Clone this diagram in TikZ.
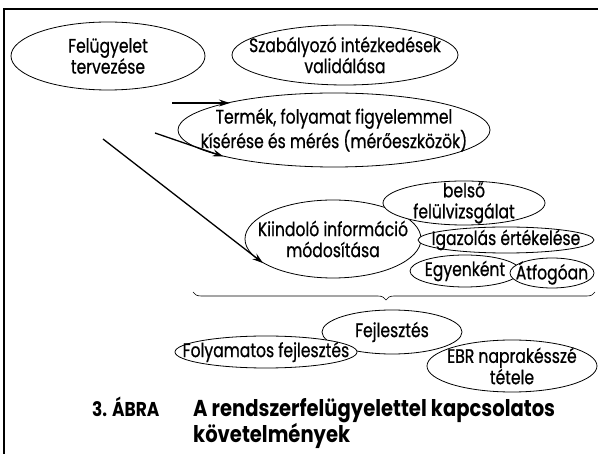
\documentclass[tikz,border=0pt]{standalone}
\usepackage{fontspec}
\setmainfont[FakeStretch=0.8,FakeBold=0.7]{Poppins}
\newfontfamily\capfont[FakeStretch=0.85]{Poppins}
\usetikzlibrary{shapes.geometric,decorations.pathreplacing,arrows.meta}

\tikzset{
  bubble/.style={draw,line width=0.8pt,ellipse,fill=white,inner xsep=-80pt,inner ysep=-40pt,
    align=center,font=\fontsize{19.5}{21}\selectfont},
  caption/.style={font=\capfont\bfseries\fontsize{23}{26}\selectfont,inner sep=0pt},
}

\begin{document}
\begin{tikzpicture}[x=1pt,y=-1pt,>={Stealth[length=11pt,width=7pt,inset=4pt]}]
\useasboundingbox (0,0) rectangle (598,454);

% frame
\draw[line width=1.2pt] (4,454) -- (4,9) -- (598,9);

% top row
\node[bubble,minimum width=194pt,minimum height=68pt] (planning) at (108,56) {Felügyelet\\tervezése};
\node[bubble,minimum width=226pt,minimum height=60pt] (validation) at (345,55) {Szabályozó intézkedések\\validálása};
\node[bubble,minimum width=312pt,minimum height=74pt] (monitoring) at (334,130) {Termék, folyamat figyelemmel\\kísérése és mérés (mérőeszközök)};

% middle cluster
\node[bubble,minimum width=176pt,minimum height=78pt] (source) at (333,239) {Kiindoló információ\\módosítása};
\node[bubble,minimum width=162pt,minimum height=44pt] (review) at (464,203) {belső\\felülvizsgálat};
\node[bubble,minimum width=176pt,minimum height=26pt] (verify) at (506,240) {Igazolás értékelése};
\node[bubble,minimum width=110pt,minimum height=32pt] (single) at (465,271) {Egyenként};
\node[bubble,minimum width=84pt,minimum height=30pt] (overall) at (552,273) {Átfogóan};

% arrows
\coordinate (s1) at (172,103);
\coordinate (s2) at (155,133);
\coordinate (s3) at (103,139);
\draw[->,line width=1.3pt] (s1) -- (s1 -| monitoring.165);
\draw[->,line width=1.3pt] (s2) -- (monitoring.south west);
\draw[->,line width=1.3pt] (s3) -- (source.199);

% brace
\coordinate (bl) at (193,292);
\coordinate (br) at (595,292);
\draw[semithick,decorate,decoration={brace,mirror,amplitude=8pt,aspect=0.48}] (bl) -- (br);

% bottom row
\node[bubble,minimum width=140pt,minimum height=44pt] (develop) at (392,332) {Fejlesztés};
\node[bubble,minimum width=182pt,minimum height=32pt] (continuous) at (266,352) {Folyamatos fejlesztés};
\node[bubble,minimum width=170pt,minimum height=52pt,font=\fontsize{19.5}{17}\selectfont] (update) at (512,366) {EBR naprakésszé\\tétele};

% caption
\node[caption,anchor=base west,font=\capfont\bfseries\fontsize{20}{26}\selectfont] (fignum) at (92,417) {3. ÁBRA};
\node[caption,anchor=base west,align=left] (title) at (193,443) {A rendszerfelügyelettel kapcsolatos\\követelmények};

\end{tikzpicture}
\end{document}
